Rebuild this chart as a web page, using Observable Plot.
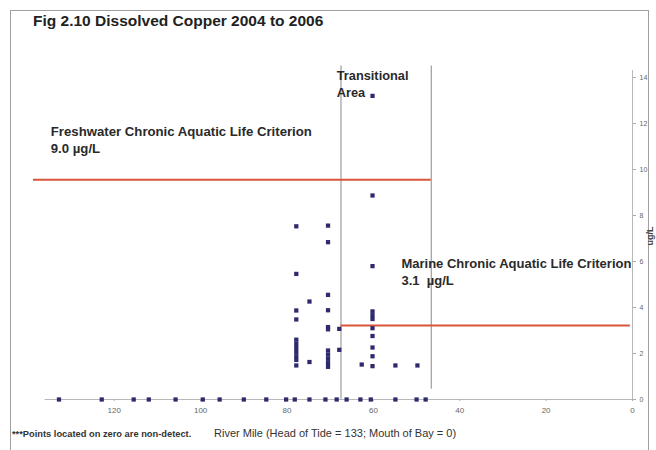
<!DOCTYPE html>
<html><head><meta charset="utf-8">
<script src="https://cdn.jsdelivr.net/npm/d3@7"></script>
<script src="https://cdn.jsdelivr.net/npm/@observablehq/plot@0.6"></script>
<style>
html,body{margin:0;padding:0;background:#fff;}
#chart svg{display:block;font-family:"Liberation Sans",Arial,sans-serif;}
</style></head>
<body><div id="chart"></div>
<script>
// Non-detect samples (plotted on zero), river mile
const zeroMiles = [132.8,122.9,115.5,112,105.8,99.5,95.6,90,84.8,80.2,78.2,74.8,71.1,68.5,66.2,63,60.6,54.9,50,47.9];
// Detected samples: river mile and dissolved copper (ug/L)
const detMiles = [
  77.85,77.85,77.85,77.85,77.85,77.85,77.85,77.85,77.85,77.85,77.85,
  74.8,74.8,
  70.5,70.5,70.5,70.5,70.5,70.5,70.5,70.5,70.5,70.5,70.5,
  67.9,67.9,
  62.7,
  60.2,60.2,60.2,60.2,60.2,60.2,60.2,60.2,60.2,60.2,60.2,
  54.9,
  49.8
];
const detValues = [
  7.53,5.46,3.87,3.48,2.6,2.42,2.24,2.06,1.88,1.72,1.48,
  4.26,1.63,
  7.56,6.84,4.55,3.88,3.15,3.05,2.13,1.95,1.77,1.59,1.42,
  3.07,2.16,
  1.52,
  13.2,8.87,5.8,3.83,3.66,3.5,3.1,2.76,2.26,1.88,1.45,
  1.48,
  1.48
];
// Criteria lines: [label, drawn value, mile start, mile end]
const criteriaNames = ["Freshwater", "Marine"];
const criteriaValues = [9.55, 3.22];
const criteriaFrom = [138.7, 67.5];
const criteriaTo = [46.6, 0.5];
// Transitional area bounds (river mile)
const transitionMiles = [67.5, 46.6];
const xTicks = [0,20,40,60,80,100,120];
const yTicks = [0,2,4,6,8,10,12,14];

const zeroData = zeroMiles.map(m => ({mile: m, value: 0}));
const detData = detMiles.map((m, i) => ({mile: m, value: detValues[i]}));
const critData = criteriaNames.map((n, i) => ({name: n, value: criteriaValues[i], from: criteriaFrom[i], to: criteriaTo[i]}));

const dotColor = "#2e2a6c";
const redColor = "#d9553a";

const plot = Plot.plot({
  width: 656,
  height: 450,
  marginLeft: 33,
  marginRight: 24,
  marginTop: 77,
  marginBottom: 51,
  style: {fontFamily: "'Liberation Sans', Arial, sans-serif", background: "#fff"},
  x: {domain: [138.7, 0]},
  y: {domain: [0, 14]},
  marks: [
    Plot.ruleY([0], {x1: 136, x2: 0, stroke: "#b8b8b8", strokeWidth: 1}),
    Plot.ruleX([0], {y1: 0, y2: 14.3, stroke: "#b8b8b8", strokeWidth: 1}),
    Plot.axisX({ticks: xTicks, tickSize: 2, tickPadding: 6, fontSize: 8, color: "#666", label: null, stroke: "#aaa"}),
    Plot.axisY({anchor: "right", ticks: yTicks, tickSize: 3, tickPadding: 4, fontSize: 7, color: "#666", label: null, stroke: "#aaa"}),
    Plot.ruleX(transitionMiles, {x: d => d, y1: (d, i) => i === 0 ? 0 : 0.45, y2: 14.5, stroke: "#8a8a8a", strokeWidth: 1}),
    Plot.ruleY(critData, {y: "value", x1: "from", x2: "to", stroke: redColor, strokeWidth: 2}),
    Plot.dot(zeroData, {x: "mile", y: "value", symbol: "square", r: 2.4, fill: dotColor}),
    Plot.dot(detData, {x: "mile", y: "value", symbol: "square", r: 2.4, fill: dotColor}),
    Plot.text(["Freshwater Chronic Aquatic Life Criterion\n9.0 µg/L"], {x: 134.7, y: 11.48, text: d => d, textAnchor: "start", lineAnchor: "bottom", fontSize: 13.2, fontWeight: "bold", fill: "#2a2a2a", lineHeight: 1.36, dy: 18}),
    Plot.text(["Transitional\nArea"], {x: 68.5, y: 13.87, text: d => d, textAnchor: "start", lineAnchor: "bottom", fontSize: 12.8, fontWeight: "bold", fill: "#2a2a2a", lineHeight: 1.33, dy: 17}),
    Plot.text(["Marine Chronic Aquatic Life Criterion\n3.1  µg/L"], {x: 53.5, y: 5.74, text: d => d, textAnchor: "start", lineAnchor: "bottom", fontSize: 13, fontWeight: "bold", fill: "#2a2a2a", lineHeight: 1.38, dy: 18})
  ]
});

const svg = d3.select(plot);
svg.insert("rect", ":first-child").attr("x", 10.5).attr("y", 10.5).attr("width", 638).attr("height", 460)
  .attr("fill", "none").attr("stroke", "#a0a0a0");
svg.append("text").attr("x", 33).attr("y", 26).attr("text-anchor", "start").attr("font-size", 15.5).attr("font-weight", "bold").attr("fill", "#222")
  .text("Fig 2.10 Dissolved Copper 2004 to 2006");
svg.append("text").attr("x", 12).attr("y", 437).attr("text-anchor", "start").attr("font-size", 9.3).attr("font-weight", "bold").attr("fill", "#333")
  .text("***Points located on zero are non-detect.");
svg.append("text").attr("x", 214).attr("y", 437).attr("text-anchor", "start").attr("font-size", 11).attr("fill", "#333")
  .text("River Mile (Head of Tide = 133; Mouth of Bay = 0)");
svg.append("text").attr("transform", "translate(653,236) rotate(-90)").attr("text-anchor", "middle")
  .attr("font-size", 9).attr("font-weight", "bold").attr("fill", "#444").text("ug/L");

document.getElementById("chart").appendChild(plot);
</script>
</body></html>
